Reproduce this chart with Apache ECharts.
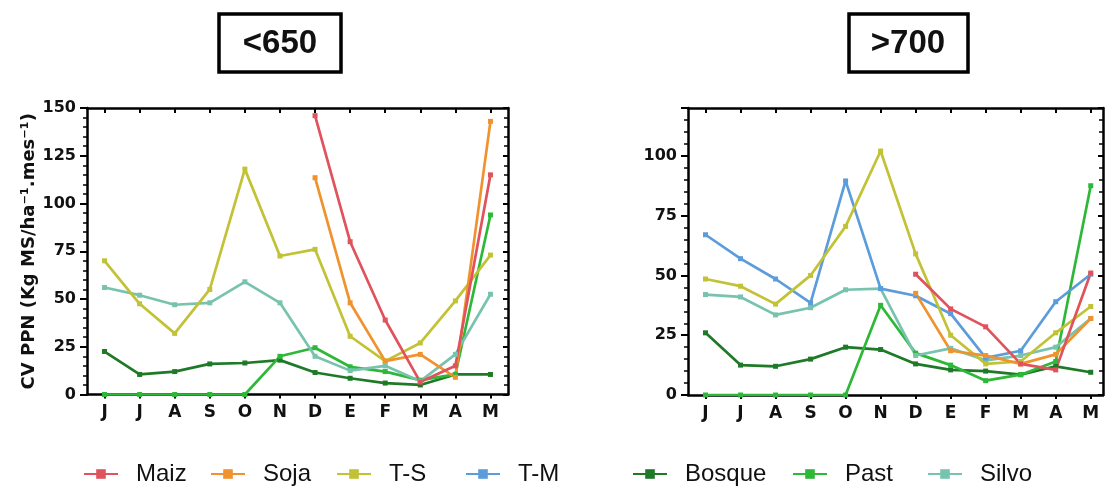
<!DOCTYPE html>
<html>
<head>
<meta charset="utf-8">
<script src="https://cdn.jsdelivr.net/npm/echarts@6/dist/echarts.min.js"></script>
<style>html,body{margin:0;padding:0;background:#fff}#c{width:1109px;height:487px}</style>
</head>
<body>
<div id="c"></div>
<script>
// ---- data ----
var months = ['J','J','A','S','O','N','D','E','F','M','A','M'];
var yTicksLow = [0, 25, 50, 75, 100, 125, 150];
var yTicksHigh = [0, 25, 50, 75, 100];
var seriesNames = ['Maiz','Soja','T-S','T-M','Bosque','Past','Silvo'];

// <650
var maizLow   = [null,null,null,null,null,null,146,80,39,6.5,15,115];
var sojaLow   = [null,null,null,null,null,null,113.5,48,17.5,21,9,143];
var tsLow     = [70,47.5,32,55,118,72.5,76,30.5,17.5,27,49,73];
var bosqueLow = [22.5,10.5,12,16,16.5,18,11.5,8.5,6,5,10.5,10.5];
var pastLow   = [0,0,0,0,0,20,24.5,14.5,12,7.5,10.5,94];
var silvoLow  = [56,52,47,48,59,48,20,12.5,15,7,21,52.5];

// >700
var maizHigh   = [null,null,null,null,null,null,50.5,36,28.5,13,10.5,51];
var sojaHigh   = [null,null,null,null,null,null,42.5,18.5,16.5,13,17,32];
var tsHigh     = [48.5,45.5,38,50,70.5,102,59,25,13,14,26,37];
var tmHigh     = [67,57,48.5,38.5,89.5,44.5,41.5,34,15.5,18.5,39,50.5];
var bosqueHigh = [26,12.5,12,15,20,19,13,10.5,10,8.5,12,9.5];
var pastHigh   = [0,0,0,0,0,37.5,17.5,12.5,6,8.5,14,87.5];
var silvoHigh  = [42,41,33.5,36.5,44,44.5,16.5,19.5,14.5,16.5,20,32];

// ---- styling ----
var colors = {
  'Maiz':'#e0525c','Soja':'#f0922e','T-S':'#c2c236','T-M':'#5c9cdb',
  'Bosque':'#1f7a27','Past':'#2eb838','Silvo':'#78c3ae'
};
var idx = months.map(function(m,i){return i;});
function pts(arr){
  var out=[];
  arr.forEach(function(v,i){ if(v!==null) out.push([i,v]); });
  return out;
}
var AX = {color:'#000', width:2.5};
var axisFont = 'DejaVu Sans';

function xBottom(g, maxV){
  return {type:'value', gridIndex:g, position:'bottom', min:-0.5, max:maxV,
    splitLine:{show:false},
    axisLine:{show:true, onZero:false, lineStyle:AX},
    axisTick:{show:true, inside:false, length:4, lineStyle:{color:'#000',width:2}, customValues:idx},
    axisLabel:{show:true, customValues:idx, margin:10, color:'#111',
      fontFamily:axisFont, fontWeight:'bold', fontSize:17,
      formatter:function(v){return months[Math.round(v)];}}
  };
}
function xTop(g, maxV){
  return {type:'value', gridIndex:g, position:'top', min:-0.5, max:maxV,
    splitLine:{show:false},
    axisLine:{show:true, onZero:false, lineStyle:AX},
    axisTick:{show:true, inside:true, length:5, lineStyle:{color:'#000',width:2}, customValues:idx},
    axisLabel:{show:false}
  };
}
function yLeft(g, maxV, withName){
  var o = {type:'value', gridIndex:g, position:'left', min:0, max:maxV, interval:25,
    splitLine:{show:false},
    axisLine:{show:true, onZero:false, lineStyle:AX},
    axisTick:{show:true, inside:false, length:7, lineStyle:{color:'#000',width:2}},
    minorTick:{show:true, splitNumber:5, length:4, lineStyle:{color:'#000',width:1.5}},
    axisLabel:{show:true, margin:11, color:'#111', fontFamily:axisFont, fontWeight:'bold', fontSize:16,
      showMaxLabel: maxV===150}
  };
  if(withName){
    o.name = 'CV PPN (Kg MS/ha\u207B\u00B9.mes\u207B\u00B9)';
    o.nameLocation = 'middle';
    o.nameRotate = 90;
    o.nameGap = 47;
    o.nameTextStyle = {fontFamily:axisFont, fontWeight:'bold', fontSize:18, color:'#111'};
  }
  return o;
}
function yRight(g, maxV){
  return {type:'value', gridIndex:g, position:'right', min:0, max:maxV, interval:25,
    splitLine:{show:false},
    axisLine:{show:true, onZero:false, lineStyle:AX},
    axisTick:{show:true, inside:true, length:5, lineStyle:{color:'#000',width:2}},
    minorTick:{show:true, splitNumber:5, length:4, lineStyle:{color:'#000',width:1.5}},
    axisLabel:{show:false}
  };
}
function line(name, arr, xi, yi){
  return {type:'line', name:name, xAxisIndex:xi, yAxisIndex:yi, data:pts(arr),
    symbol:'rect', symbolSize:5, showSymbol:true,
    lineStyle:{width:2.7, color:colors[name]}, itemStyle:{color:colors[name]},
    emphasis:{disabled:true}, animation:false};
}

var legendX = [83, 210, 336, 465, 632, 792, 927];
var legends = seriesNames.map(function(n,i){
  return {data:[n], left:legendX[i], top:462, padding:0, itemWidth:34, itemHeight:12,
    selectedMode:false,
    textStyle:{fontFamily:'Liberation Sans', fontSize:24, color:'#111', padding:[0,0,0,13]}};
});

var option = {
  backgroundColor:'#fff',
  animation:false,
  grid:[
    {left:87, top:108, width:421, height:286.5},
    {left:688, top:108, width:415, height:287}
  ],
  xAxis:[ xBottom(0, 11.5), xTop(0, 11.5), xBottom(1, 11.35), xTop(1, 11.35) ],
  yAxis:[ yLeft(0, 150, true), yRight(0, 150), yLeft(1, 120, false), yRight(1, 120) ],
  legend: legends,
  series:[
    line('Bosque', bosqueLow, 0, 0),
    line('Past', pastLow, 0, 0),
    line('Silvo', silvoLow, 0, 0),
    line('T-S', tsLow, 0, 0),
    line('Soja', sojaLow, 0, 0),
    line('Maiz', maizLow, 0, 0),
    line('Bosque', bosqueHigh, 2, 2),
    line('Past', pastHigh, 2, 2),
    line('Silvo', silvoHigh, 2, 2),
    line('T-M', tmHigh, 2, 2),
    line('T-S', tsHigh, 2, 2),
    line('Soja', sojaHigh, 2, 2),
    line('Maiz', maizHigh, 2, 2)
  ],
  graphic:[
    {type:'rect', shape:{x:219, y:14, width:122, height:58}, style:{fill:'#fff', stroke:'#000', lineWidth:3.5}},
    {type:'text', x:280, y:44, style:{text:'<650', fill:'#111', font:'bold 33px "Liberation Sans"', textAlign:'center', textVerticalAlign:'middle'}},
    {type:'rect', shape:{x:849, y:14, width:119, height:58}, style:{fill:'#fff', stroke:'#000', lineWidth:3.5}},
    {type:'text', x:908, y:44, style:{text:'>700', fill:'#111', font:'bold 33px "Liberation Sans"', textAlign:'center', textVerticalAlign:'middle'}}
  ]
};
var chart = echarts.init(document.getElementById('c'), null, {renderer:'canvas'});
chart.setOption(option);
</script>
</body>
</html>
